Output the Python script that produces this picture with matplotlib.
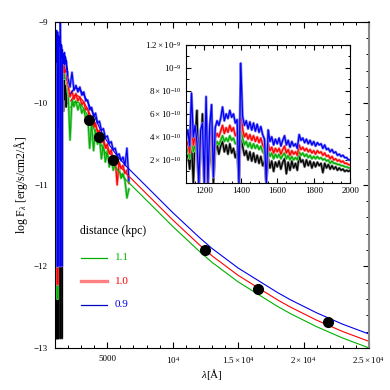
import numpy as np
import matplotlib.pyplot as plt
from matplotlib.ticker import MultipleLocator, FixedLocator

plt.rcParams['font.family'] = ['Liberation Serif', 'DejaVu Serif']
plt.rcParams['mathtext.fontset'] = 'custom'
plt.rcParams['mathtext.rm'] = 'Liberation Serif'
plt.rcParams['mathtext.it'] = 'Liberation Serif:italic'

# ---- UV spectra (flux in units of 1e-10 erg/s/cm2/A), 10 A steps ----
uv_wl = list(range(1100, 2001, 10))
uv_blue = [3.8, 4.6, 3.2, 7.8, 4.0, 5.0, 3.5, 0.01, 4.6, 5.2,
           0.01, 7.5, 0.01, 5.0, 6.8, 0.5, 4.8, 5.4, 5.0, 5.6,
           6.6, 5.4, 6.0, 5.6, 6.3, 5.7, 6.0, 5.2, 5.5, 0.01,
           10.4, 5.8, 5.0, 5.4, 4.7, 5.3, 4.6, 5.2, 4.5, 5.1,
           4.4, 4.9, 4.2, 3.8, 0.01, 4.6, 3.6, 4.0, 3.3, 3.8,
           3.4, 3.9, 3.2, 3.7, 4.1, 3.3, 3.7, 3.1, 3.6, 3.2,
           3.4, 3.0, 4.2, 3.7, 3.9, 3.5, 3.8, 3.4, 3.7, 3.3,
           3.6, 3.2, 3.5, 3.3, 3.4, 3.0, 3.3, 2.9, 3.0, 2.7,
           2.9, 2.6, 2.7, 2.4, 2.5, 2.3, 2.4, 2.2, 2.2, 2.0, 2.0]
uv_red = [3.0, 3.6, 2.6, 5.2, 3.3, 4.0, 2.8, 0.006, 3.7, 4.2,
          0.3, 5.8, 0.006, 4.0, 5.4, 0.6, 3.9, 4.3, 4.0, 4.5,
          5.0, 4.3, 4.8, 4.4, 5.0, 4.5, 4.8, 4.1, 4.4, 0.5,
          6.8, 4.7, 4.0, 4.3, 3.8, 4.2, 3.7, 4.1, 3.6, 4.0,
          3.5, 3.9, 3.3, 3.0, 0.2, 3.4, 2.8, 3.1, 2.6, 3.0,
          2.7, 3.0, 2.5, 2.9, 3.2, 2.6, 2.9, 2.4, 2.8, 2.5,
          2.7, 2.4, 3.3, 2.9, 3.1, 2.8, 3.0, 2.7, 2.9, 2.6,
          2.8, 2.5, 2.8, 2.6, 2.7, 2.4, 2.6, 2.3, 2.4, 2.1,
          2.3, 2.0, 2.1, 1.9, 2.0, 1.8, 1.9, 1.7, 1.7, 1.6, 1.55]
uv_green = [2.5, 3.0, 2.1, 4.3, 2.7, 3.3, 2.3, 0.004, 3.1, 3.5,
            0.25, 4.8, 0.004, 3.3, 4.5, 0.5, 3.2, 3.6, 3.3, 3.7,
            4.1, 3.6, 3.9, 3.6, 4.1, 3.7, 3.9, 3.4, 3.6, 0.4,
            5.6, 3.9, 3.3, 3.6, 3.1, 3.5, 3.0, 3.4, 3.0, 3.3,
            2.9, 3.2, 2.7, 2.5, 0.15, 2.8, 2.3, 2.6, 2.1, 2.5,
            2.2, 2.5, 2.1, 2.4, 2.6, 2.1, 2.4, 2.0, 2.3, 2.0,
            2.2, 2.0, 2.7, 2.4, 2.6, 2.3, 2.5, 2.2, 2.4, 2.1,
            2.3, 2.1, 2.3, 2.1, 2.2, 2.0, 2.1, 1.9, 2.0, 1.7,
            1.9, 1.7, 1.7, 1.6, 1.6, 1.5, 1.5, 1.4, 1.4, 1.3, 1.3]
uv_black = [2.0, 2.6, 1.2, 3.5, 0.0013, 4.0, 6.3, 0.0013, 2.5, 6.0,
            0.0013, 4.0, 0.3, 2.0, 5.8, 0.0013, 2.8, 3.4, 2.5, 3.2,
            3.6, 2.7, 3.3, 2.5, 3.4, 2.6, 3.0, 2.2, 2.8, 0.0013,
            4.6, 3.2, 2.4, 2.8, 2.0, 2.7, 1.9, 2.6, 1.8, 2.4,
            1.7, 2.3, 1.5, 1.9, 0.0013, 2.1, 1.3, 1.9, 1.0, 1.8,
            1.4, 1.9, 1.2, 1.8, 2.1, 0.8, 1.8, 1.1, 1.9, 1.3,
            1.7, 1.1, 2.4, 1.8, 2.0, 1.4, 2.0, 1.5, 1.9, 1.3,
            1.8, 1.4, 1.8, 1.5, 1.7, 0.9, 1.7, 1.3, 1.6, 1.2,
            1.5, 1.2, 1.4, 1.1, 1.3, 1.1, 1.2, 1.0, 1.1, 1.0, 1.1]

# ---- optical spectra (log F) ----
opt_wl = [2000, 2150, 2300, 2450, 2600, 2750, 2900, 3050, 3200, 3350,
          3500, 3650, 3800, 3950, 4100, 4250, 4400, 4550, 4700, 4850,
          5000, 5150, 5300, 5450, 5600, 5750, 5900, 6050, 6200, 6350,
          6500, 6650]
opt_blue = [-9.70, -9.80, -9.62, -9.84, -9.78, -9.86, -9.80, -9.90, -9.86, -9.97,
            -9.96, -10.08, -10.05, -10.16, -10.12, -10.24, -10.22, -10.33, -10.31, -10.42,
            -10.40, -10.49, -10.47, -10.57, -10.55, -10.64, -10.62, -10.70, -10.66, -10.76,
            -10.55, -10.95]
opt_red = [-9.78, -9.92, -9.85, -9.95, -9.88, -9.97, -9.92, -10.02, -9.98, -10.08,
           -10.06, -10.20, -10.16, -10.30, -10.24, -10.36, -10.33, -10.48, -10.42, -10.55,
           -10.50, -10.62, -10.57, -10.70, -10.66, -11.00, -10.72, -10.80, -10.76, -10.86,
           -10.82, -10.98]
opt_green = [-9.86, -10.45, -9.95, -10.04, -9.97, -10.08, -10.00, -10.12, -10.06, -10.20,
             -10.14, -10.55, -10.24, -10.58, -10.32, -10.50, -10.42, -10.68, -10.50, -10.72,
             -10.58, -10.78, -10.66, -10.82, -10.74, -10.90, -10.80, -10.92, -10.86, -10.95,
             -11.16, -11.05]

# ---- model SEDs (log F) ----
model_wl = [2200, 2500, 2800, 3100, 3400, 3700, 4000, 4400, 4800, 5200,
            5600, 6000, 6500, 7000, 7500, 8000, 9000, 10000, 11000, 12000,
            13000, 14000, 15000, 16000, 17000, 18000, 19000, 20000, 21000, 22000,
            23000, 24000, 25000]
model_09 = [-9.88, -9.81, -9.82, -9.87, -9.95, -10.05, -10.15, -10.30, -10.42, -10.52,
            -10.61, -10.69, -10.78, -10.86, -10.94, -11.02, -11.18, -11.34, -11.49, -11.64,
            -11.78, -11.90, -12.02, -12.12, -12.22, -12.32, -12.41, -12.49, -12.57, -12.64,
            -12.71, -12.77, -12.83]
model_10 = [-9.97, -9.90, -9.91, -9.96, -10.04, -10.14, -10.24, -10.39, -10.51, -10.61,
            -10.70, -10.78, -10.87, -10.95, -11.03, -11.11, -11.27, -11.43, -11.58, -11.73,
            -11.87, -11.99, -12.11, -12.21, -12.31, -12.41, -12.50, -12.58, -12.66, -12.73,
            -12.80, -12.86, -12.92]
model_11 = [-10.05, -9.98, -9.99, -10.04, -10.12, -10.22, -10.32, -10.47, -10.59, -10.69,
            -10.78, -10.86, -10.95, -11.03, -11.11, -11.19, -11.35, -11.51, -11.66, -11.81,
            -11.95, -12.07, -12.19, -12.29, -12.39, -12.49, -12.58, -12.66, -12.74, -12.81,
            -12.88, -12.94, -13.00]

# ---- photometry ----
phot_wl = [3600, 4400, 5450, 12500, 16500, 21900]
phot_logf = [-10.21, -10.41, -10.69, -11.80, -12.28, -12.68]

distances = ['1.1', '1.0', '0.9']

BLUE, RED, GREEN, BLACK = '#0000ee', '#ff0000', '#00b000', '#000000'
HALO = {BLUE: '#8080ff', RED: '#ff8080', GREEN: '#80d080', BLACK: '#808080'}

fig = plt.figure(figsize=(3.9, 3.9), dpi=100)
ax = fig.add_axes([0.141, 0.108, 0.805, 0.836])

uv = np.array(uv_wl)
spectra = [(uv_black, BLACK), (uv_green, GREEN), (uv_red, RED), (uv_blue, BLUE)]
for vals, c in spectra:
    logv = np.log10(np.array(vals) * 1e-10)
    ax.plot(uv, logv, color=HALO[c], lw=1.6)
    ax.plot(uv, logv, color=c, lw=0.7)
for vals, c in [(opt_green, GREEN), (opt_red, RED), (opt_blue, BLUE)]:
    ax.plot(opt_wl, vals, color=HALO[c], lw=1.8)
    ax.plot(opt_wl, vals, color=c, lw=0.8)

ax.plot(model_wl, model_11, color=GREEN, lw=0.8)
ax.plot(model_wl, model_10, color=RED, lw=0.8)
ax.plot(model_wl, model_09, color=BLUE, lw=0.8)
ax.plot(phot_wl, phot_logf, 'o', color='black', ms=7, zorder=5)

ax.set_xlim(1000, 25000)
ax.set_ylim(-13, -9)
ax.xaxis.set_major_locator(FixedLocator([5000, 10000, 15000, 20000, 25000]))
ax.set_xticklabels(['5000', r'$10^{4}$', r'$1.5\times10^{4}$', r'$2\times10^{4}$',
                    r'$2.5\times10^{4}$'])
ax.xaxis.set_minor_locator(MultipleLocator(1000))
ax.yaxis.set_major_locator(MultipleLocator(1))
ax.yaxis.set_minor_locator(MultipleLocator(0.2))
ax.tick_params(which='both', direction='in', top=True, right=True, labelsize=6.5)
ax.tick_params(which='major', length=4.5, width=0.8, pad=5)
ax.tick_params(which='minor', length=2.2, width=0.7)
ax.spines['right'].set_color('#888888')
ax.spines['right'].set_linewidth(1.5)
ax.set_xlabel(r'$\lambda$[Å]', fontsize=8, labelpad=1)
ax.set_ylabel(r'log F$_{\lambda}$ [erg/s/cm2/Å]', fontsize=8.5, labelpad=3)

# legend drawn by hand
ax.text(0.08, 0.36, 'distance (kpc)', transform=ax.transAxes, fontsize=8.5,
        va='center', ha='left')
leg_y = [0.276, 0.205, 0.132]
leg_line = [(GREEN, 0.9), ('#ff8080', 2.4), ('#0000c0', 0.9)]
leg_text = [GREEN, RED, BLUE]
for d, y, (lc, lw), tc in zip(distances, leg_y, leg_line, leg_text):
    ax.plot([0.083, 0.165], [y, y], color=lc, lw=lw, transform=ax.transAxes)
    ax.text(0.19, y, d, color=tc, transform=ax.transAxes, fontsize=8,
            va='center', ha='left')

# ---- inset ----
ins = fig.add_axes([0.477, 0.531, 0.421, 0.354])
for vals, c in spectra:
    v = np.array(vals) * 1e-10
    ins.plot(uv, v, color=HALO[c], lw=1.9)
    ins.plot(uv, v, color=c, lw=0.9)
ins.set_xlim(1100, 2000)
ins.set_ylim(0, 1.2e-9)
ins.xaxis.set_major_locator(MultipleLocator(200))
ins.xaxis.set_minor_locator(MultipleLocator(50))
ins.yaxis.set_major_locator(FixedLocator([2e-10, 4e-10, 6e-10, 8e-10, 1e-9, 1.2e-9]))
ins.set_yticklabels([r'$2\times10^{-10}$', r'$4\times10^{-10}$', r'$6\times10^{-10}$',
                     r'$8\times10^{-10}$', r'$10^{-9}$', r'$1.2\times10^{-9}$'])
ins.yaxis.set_minor_locator(MultipleLocator(1e-10))
ins.tick_params(which='both', direction='in', top=True, right=True, labelsize=6.5)
ins.tick_params(which='major', length=3.5, width=0.8, pad=3)
ins.tick_params(which='minor', length=1.8, width=0.7)

fig.savefig('out.png', dpi=100)
